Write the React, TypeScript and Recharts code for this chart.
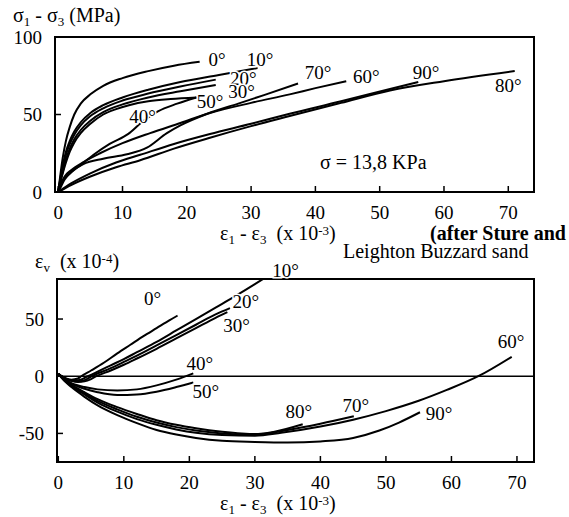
import React from "react";
import {
  LineChart,
  Line,
  XAxis,
  YAxis,
  ReferenceArea,
  ReferenceLine,
  ReferenceDot,
} from "recharts";

const serif = "'Liberation Serif', 'DejaVu Serif', serif";

const angles = ["0°", "10°", "20°", "30°", "40°", "50°", "60°", "70°", "80°", "90°"];
const strainTicks = [0, 10, 20, 30, 40, 50, 60, 70];
const stressTicks = [0, 50, 100];
const volTicks = [-50, 0, 50];

// deviator stress (MPa) vs axial-lateral strain (x10-3)
const q0 = [[0, 0], [0.3, 10], [0.7, 22], [1.2, 33], [1.8, 42], [2.5, 50], [3.5, 57], [5, 63], [7, 68.5], [10, 73.5], [14, 78], [18, 81.5], [22, 84]];
const q10 = [[0, 0], [0.3, 8], [0.7, 17], [1.2, 26], [1.8, 33], [2.5, 39], [3.5, 45], [5, 51], [7, 56], [10, 61], [14, 66], [19, 71], [25, 75.5], [31, 80]];
const q20 = [[0, 0], [0.3, 7], [0.7, 15], [1.2, 24], [1.8, 31], [2.5, 37], [3.5, 43], [5, 49], [7, 54], [10, 59], [14, 63.5], [19, 68], [24.5, 72.5]];
const q30 = [[0, 0], [0.3, 6], [0.7, 13], [1.2, 21], [1.8, 28], [2.5, 34], [3.5, 40], [5, 46], [7, 51.5], [10, 56.5], [14, 61], [19, 65], [24.5, 69]];
const q40 = [[0, 0], [0.5, 4], [1, 8], [2, 12.5], [3.5, 17.5], [5.5, 24], [8, 31], [10.9, 37.5], [13, 45], [15.5, 52], [18.5, 57], [21.5, 61]];
const q50 = [[0, 0], [0.3, 6], [0.7, 12], [1.2, 19], [1.8, 26], [2.5, 32], [3.5, 38], [5, 44], [7, 50], [9, 53.5], [11, 56], [14, 58.5], [17.5, 60], [21.5, 61]];
const q60 = [[0, 0], [0.5, 6], [1, 10], [2, 14], [4, 19.5], [6.5, 25], [10, 31.5], [14.3, 38], [19, 44.5], [23.6, 51], [30, 57.5], [36, 63], [40, 67], [44.8, 71.5]];
const q70 = [[0, 0], [0.5, 6], [1, 9], [2, 13], [3.9, 18], [7, 21.5], [10.7, 24.3], [13.8, 28.6], [16.9, 38], [19, 43], [23.2, 50.5], [28, 57], [32, 62.5], [37.3, 70]];
const q80 = [[0, 0], [2, 4.5], [5, 10], [9, 16], [12.75, 20.5], [18, 28], [23.6, 35], [30, 42.5], [36, 49], [44, 57.5], [51.6, 65.5], [60, 71.5], [71, 78]];
const q90 = [[0, 0], [2, 5.5], [5, 12], [9, 19], [12.75, 24], [18, 31], [23.6, 37.4], [30, 44], [36, 50.5], [44, 58.5], [51.6, 66.5], [56, 71]];
const qLabelAt = [[24.7, 85.2], [31.4, 85.8], [28.8, 73.5], [28.5, 64.8], [13.1, 48.4], [23.6, 58.7], [47.9, 74.2], [40.4, 76.8], [70, 68.4], [57.2, 77.4]];

// volumetric strain (x10-4)
const v0 = [[0, 2], [1, -1.5], [2, -3], [3, -2], [3.5, 0], [5, 5], [7, 12], [9, 20], [11, 27.5], [13, 35], [15, 42], [17, 49], [18.2, 53]];
const v10 = [[0, 2], [1, -2], [2, -3.5], [3, -3.5], [4.5, 0], [6, 4], [8, 9.5], [10, 15], [12, 21], [15, 30], [18, 40], [21, 50], [24, 60], [27, 70], [30, 80.5], [31.8, 87]];
const v20 = [[0, 2], [1, -2], [2, -4], [3, -4.5], [4, -3.5], [5.1, 0], [8, 7], [10, 12.5], [12, 18], [15, 27], [18, 36], [21, 45], [24, 54], [26.2, 59.5]];
const v30 = [[0, 2], [1, -2], [2, -4], [3, -5], [4, -4.5], [5, -2.5], [5.8, 0], [8, 5], [10, 10], [12, 15.5], [15, 24], [18, 33], [21, 42], [24, 51], [25.8, 56]];
const v40 = [[0, 2], [1, -3], [2, -6], [4, -9.5], [6, -11.5], [9, -12.5], [12, -11.5], [15, -8], [18, -3], [20.6, 2.5]];
const v50 = [[0, 2], [1, -3], [2, -6.5], [4, -11], [6, -14], [9, -16.5], [12, -16], [15, -13.5], [18, -9.5], [20.6, -5.5]];
const v60 = [[0, 2], [1, -4], [2, -8.5], [4, -16], [6, -23], [9, -31], [12, -37.5], [15, -42.5], [18, -46.5], [21, -49.5], [25, -51.5], [30, -52], [34, -49.5], [40, -44], [45, -38], [50, -30.5], [55, -21.5], [59.3, -12], [64.1, 0], [69.2, 17]];
const v70 = [[0, 2], [1, -4], [2, -8], [4, -15], [6, -21.5], [9, -29], [12, -35.5], [15, -40.5], [18, -44.5], [21, -47.5], [25, -50], [28, -51], [31, -50.5], [35, -47], [40, -41.5], [45.1, -35]];
const v80 = [[0, 2], [1, -3.5], [2, -7.5], [4, -14], [6, -20], [9, -27], [12, -33], [15, -38.5], [18, -42.5], [21, -45.5], [25, -48.5], [28, -50], [30.5, -50.5], [33, -48.5], [37.3, -42]];
const v90 = [[0, 2], [1, -4.5], [2, -9.5], [4, -18], [6, -25.5], [9, -34], [12, -41], [15, -47], [18, -51], [21, -54], [25, -56.5], [30, -57.5], [35, -58], [40, -57], [45, -54], [49, -47.5], [52, -40.5], [55.2, -31.5]];
const vLabelAt = [[14.4, 68], [34.7, 92.1], [28.6, 64.9], [27.2, 44.7], [21.6, 11.4], [22.5, -13.2], [69.1, 30.7], [45.4, -25.4], [36.7, -30.7], [58.1, -32.5]];

const qSeries = [q0, q10, q20, q30, q40, q50, q60, q70, q80, q90];
const vSeries = [v0, v10, v20, v30, v40, v50, v60, v70, v80, v90];

const toPts = (arr: number[][]) => arr.map(([x, y]) => ({ x, y }));

const tickStyle = { fill: "#000", fontSize: 19, fontFamily: serif };
const tickLine = { stroke: "#000", strokeWidth: 1.5 };

const angleLabel = (text: string) => (p: any) => (
  <text
    x={p.cx}
    y={p.cy}
    textAnchor="middle"
    dominantBaseline="central"
    fontFamily={serif}
    fontSize={19}
    fill="#000"
    stroke="#fff"
    strokeWidth={3}
    paintOrder="stroke"
  >
    {text}
  </text>
);

const Txt: React.FC<{ left: number; top: number; bold?: boolean; children: React.ReactNode }> = ({ left, top, bold, children }) => (
  <div
    style={{
      position: "absolute",
      left,
      top,
      fontFamily: serif,
      fontSize: 20,
      lineHeight: 1,
      whiteSpace: "pre",
      fontWeight: bold ? 700 : 400,
      color: "#000",
    }}
  >
    {children}
  </div>
);

const Sub: React.FC<{ children: React.ReactNode }> = ({ children }) => (
  <span style={{ fontSize: "0.65em", position: "relative", top: "0.3em" }}>{children}</span>
);
const Sup: React.FC<{ children: React.ReactNode }> = ({ children }) => (
  <span style={{ fontSize: "0.65em", position: "relative", top: "-0.4em" }}>{children}</span>
);

const App: React.FC = () => {
  return (
    <div style={{ position: "absolute", left: 0, top: 0, width: 569, height: 517, overflow: "hidden", background: "#fff" }}>
      <div style={{ position: "absolute", left: 0, top: 0 }}>
        <LineChart width={569} height={250} margin={{ top: 37, right: 35, bottom: 28, left: 15 }}>
          <XAxis
            type="number"
            dataKey="x"
            domain={[-0.5, 74]}
            ticks={strainTicks}
            allowDataOverflow
            axisLine={false}
            tickSize={-6}
            tickMargin={20}
            tickLine={tickLine}
            tick={tickStyle}
            height={30}
          />
          <YAxis
            type="number"
            dataKey="y"
            domain={[0, 100]}
            ticks={stressTicks}
            allowDataOverflow
            axisLine={false}
            width={40}
            tickSize={-6}
            tickMargin={19}
            tickLine={tickLine}
            tick={tickStyle}
          />
          <ReferenceArea x1={-0.5} x2={74} y1={0} y2={100} fill="none" fillOpacity={0} stroke="#000" strokeWidth={2} />
          {qSeries.map((s, i) => (
            <Line
              key={angles[i]}
              data={toPts(s)}
              dataKey="y"
              type="monotone"
              stroke="#000"
              strokeWidth={2}
              dot={false}
              activeDot={false}
              isAnimationActive={false}
            />
          ))}
          {qLabelAt.map(([x, y], i) => (
            <ReferenceDot key={"q" + i} x={x} y={y} r={0} ifOverflow="visible" shape={angleLabel(angles[i])} />
          ))}
        </LineChart>
      </div>
      <div style={{ position: "absolute", left: 0, top: 250 }}>
        <LineChart width={569} height={267} margin={{ top: 29, right: 35, bottom: 25, left: 17 }}>
          <XAxis
            type="number"
            dataKey="x"
            domain={[-0.2, 72.6]}
            ticks={strainTicks}
            allowDataOverflow
            axisLine={false}
            tickSize={-6}
            tickMargin={20}
            tickLine={tickLine}
            tick={tickStyle}
            height={30}
          />
          <YAxis
            type="number"
            dataKey="y"
            domain={[-75, 85]}
            ticks={volTicks}
            allowDataOverflow
            axisLine={false}
            width={40}
            tickSize={-6}
            tickMargin={19}
            tickLine={tickLine}
            tick={tickStyle}
          />
          <ReferenceArea x1={-0.2} x2={72.6} y1={-75} y2={85} fill="none" fillOpacity={0} stroke="#000" strokeWidth={2} />
          <ReferenceLine y={0} stroke="#000" strokeWidth={1.5} />
          {vSeries.map((s, i) => (
            <Line
              key={angles[i]}
              data={toPts(s)}
              dataKey="y"
              type="monotone"
              stroke="#000"
              strokeWidth={2}
              dot={false}
              activeDot={false}
              isAnimationActive={false}
            />
          ))}
          {vLabelAt.map(([x, y], i) => (
            <ReferenceDot key={"v" + i} x={x} y={y} r={0} ifOverflow="visible" shape={angleLabel(angles[i])} />
          ))}
        </LineChart>
      </div>

      <Txt left={13} top={5}>
        σ<Sub>1</Sub> - σ<Sub>3</Sub> (MPa)
      </Txt>
      <Txt left={320} top={152}>σ = 13,8 KPa</Txt>
      <Txt left={220} top={223}>
        ε<Sub>1</Sub> - ε<Sub>3</Sub>  (x 10<Sup>-3</Sup>)
      </Txt>
      <Txt left={430} top={223} bold>
        (after Sture and
      </Txt>
      <Txt left={343} top={241}>Leighton Buzzard sand</Txt>
      <Txt left={35} top={251}>
        ε<Sub>v</Sub>  (x 10<Sup>-4</Sup>)
      </Txt>
      <Txt left={220} top={493}>
        ε<Sub>1</Sub> - ε<Sub>3</Sub>  (x 10<Sup>-3</Sup>)
      </Txt>
    </div>
  );
};

export default App;
